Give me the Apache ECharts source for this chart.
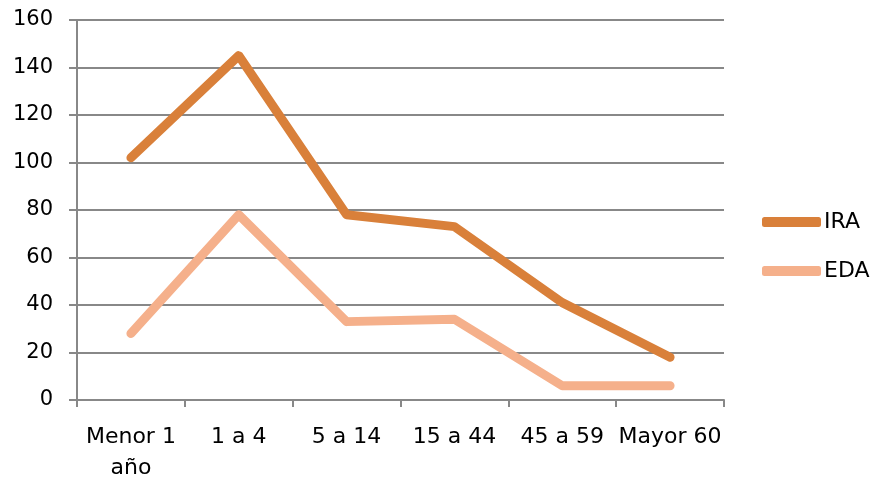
<!DOCTYPE html>
<html><head><meta charset="utf-8">
<script src="https://cdn.jsdelivr.net/npm/echarts@6/dist/echarts.min.js"></script>
<style>html,body{margin:0;padding:0;background:#fff}#c{width:870px;height:477px}</style>
</head><body><div id="c"></div>
<script>
const categories = ['Menor 1\naño', '1 a 4', '5 a 14', '15 a 44', '45 a 59', 'Mayor 60'];
const ira = [102, 145, 78, 73, 41, 18];
const eda = [28, 78, 33, 34, 6, 6];
const yTicks = {min: 0, max: 160, interval: 20};

const font = '"DejaVu Sans", sans-serif';
const chart = echarts.init(document.getElementById('c'), null, {renderer: 'canvas'});
chart.setOption({
  animation: false,
  grid: {left: 77, right: 146, top: 20, bottom: 77, containLabel: false, outerBoundsMode: 'none'},
  legend: {
    orient: 'vertical', left: 762, top: 210, itemGap: 25, padding: 0,
    itemWidth: 59, itemHeight: 10, icon: 'roundRect',
    textStyle: {fontFamily: font, fontSize: 22, color: '#000', lineHeight: 24, padding: [0,0,0,-2]},
    data: ['IRA', 'EDA']
  },
  xAxis: {
    type: 'category', data: categories, boundaryGap: true,
    axisLine: {lineStyle: {color: '#888', width: 2}},
    axisTick: {show: true, length: 7, lineStyle: {color: '#888', width: 2}},
    axisLabel: {fontFamily: font, fontSize: 22, color: '#000', margin: 22, lineHeight: 31, interval: 0}
  },
  yAxis: {
    type: 'value', min: yTicks.min, max: yTicks.max, interval: yTicks.interval,
    axisLine: {show: true, lineStyle: {color: '#888', width: 2}},
    axisTick: {show: true, length: 8, lineStyle: {color: '#888', width: 2}},
    splitLine: {show: true, lineStyle: {color: '#888', width: 2}},
    axisLabel: {fontFamily: font, fontSize: 21, color: '#000', margin: 24}
  },
  series: [
    {name: 'IRA', type: 'line', data: ira, showSymbol: false, symbol: 'none',
     color: '#D9803A', lineStyle: {width: 9, cap: 'round', join: 'round', color: '#D9803A'}},
    {name: 'EDA', type: 'line', data: eda, showSymbol: false, symbol: 'none',
     color: '#F5B08B', lineStyle: {width: 9, cap: 'round', join: 'round', color: '#F5B08B'}}
  ]
});
</script></body></html>
